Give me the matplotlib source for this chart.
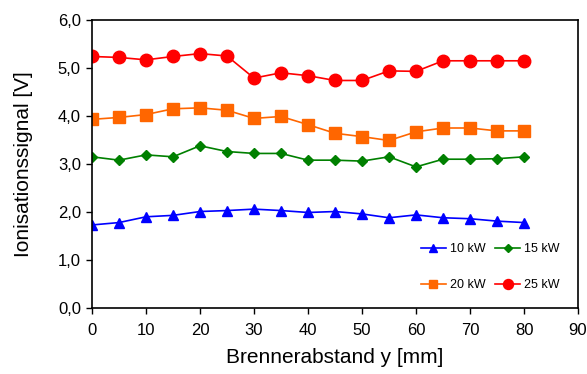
import matplotlib.pyplot as plt
from matplotlib.ticker import FuncFormatter

plt.rcParams['font.family'] = ['Liberation Sans', 'DejaVu Sans']

abstand = [0, 5, 10, 15, 20, 25, 30, 35, 40, 45, 50, 55, 60, 65, 70, 75, 80]
kw10 = [1.73, 1.78, 1.90, 1.93, 2.01, 2.03, 2.06, 2.03, 1.99, 2.01, 1.96, 1.88, 1.94, 1.88, 1.86, 1.81, 1.78]
kw15 = [3.15, 3.08, 3.19, 3.15, 3.38, 3.26, 3.22, 3.22, 3.08, 3.08, 3.06, 3.15, 2.94, 3.10, 3.10, 3.11, 3.15]
kw20 = [3.93, 3.97, 4.03, 4.15, 4.17, 4.12, 3.95, 3.99, 3.82, 3.64, 3.57, 3.49, 3.67, 3.75, 3.75, 3.69, 3.69]
kw25 = [5.24, 5.22, 5.17, 5.24, 5.30, 5.25, 4.79, 4.90, 4.84, 4.74, 4.74, 4.94, 4.93, 5.15, 5.15, 5.15, 5.15]

fig = plt.figure(figsize=(5.87, 3.74), dpi=100)
ax = fig.add_axes([92 / 587, 1 - 308 / 374, 486 / 587, 288 / 374])

l10, = ax.plot(abstand, kw10, color='#0000FF', marker='^', markersize=7.5, lw=1.2, label='10 kW')
l15, = ax.plot(abstand, kw15, color='#008000', marker='D', markersize=5.5, lw=1.2, label='15 kW')
l20, = ax.plot(abstand, kw20, color='#FF6600', marker='s', markersize=8, lw=1.2, label='20 kW')
l25, = ax.plot(abstand, kw25, color='#FF0000', marker='o', markersize=9, lw=1.2, label='25 kW')

ax.set_xlim(0, 90)
ax.set_ylim(0, 6)
ax.set_xticks(range(0, 91, 10))
ax.set_yticks([0, 1, 2, 3, 4, 5, 6])
ax.yaxis.set_major_formatter(FuncFormatter(lambda v, p: f'{v:.1f}'.replace('.', ',')))
ax.tick_params(labelsize=12, direction='out', length=4, width=1)
ax.tick_params(axis='x', pad=7)
ax.tick_params(axis='y', pad=4)
for s in ax.spines.values():
    s.set_linewidth(1.2)

ax.set_xlabel('Brennerabstand y [mm]', fontsize=15, labelpad=7)
ax.set_ylabel('Ionisationssignal [V]', fontsize=15, labelpad=18)

# matplotlib fills legend columns first, so order handles to get rows 10/15 and 20/25
ax.legend([l10, l20, l15, l25], ['10 kW', '20 kW', '15 kW', '25 kW'],
          ncol=2, loc='lower right', bbox_to_anchor=(0.985, 0.02), frameon=False,
          fontsize=9, labelspacing=1.9, columnspacing=0.8, handlelength=2.0,
          handletextpad=0.3, markerscale=0.8)

fig.savefig('out.png', dpi=100)
